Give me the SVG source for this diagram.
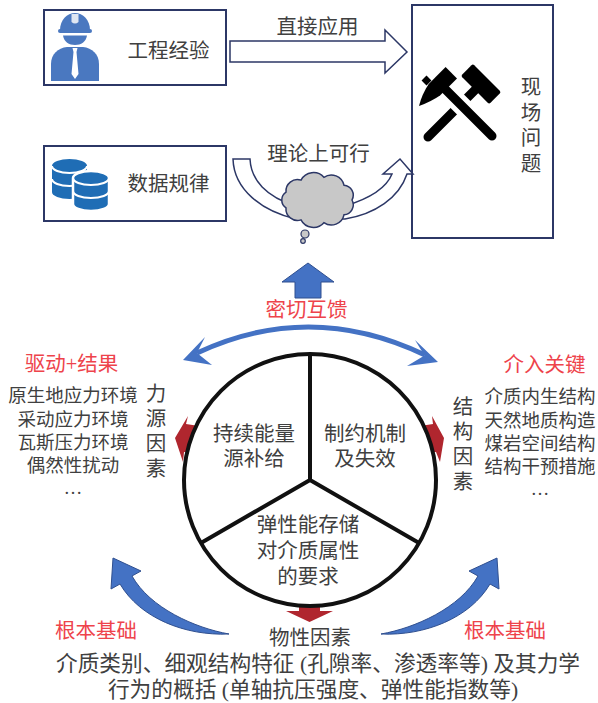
<svg xmlns="http://www.w3.org/2000/svg" xmlns:xlink="http://www.w3.org/1999/xlink" width="598" height="703" viewBox="0 0 598 703">
  <style>
    text { font-family: "Liberation Serif", "Noto Sans CJK SC", sans-serif; fill: #404040; font-size: 20.5px; }
    .mid { text-anchor: middle; }
    .red { fill: #ee434b; }
    .list { font-size: 18.5px; }
    .desc { font-size: 21.7px; }
    .box { fill: #fff; stroke: #2c3766; stroke-width: 2; }
    .outline { fill: #fff; stroke: #2c3766; stroke-width: 1.5; stroke-linejoin: miter; }
    .blue { fill: #4472c4; stroke: #2f4f8f; stroke-width: 1; }
    .dred { fill: #b0262e; }
  </style>
  <defs>
    <path id="baseArrow" d="M229,634 C195,628 150,608 132,576 L141,571 L113,558 L111,589 L120,584 C140,618 185,636 229,634 Z"/>
  </defs>

  <rect width="598" height="703" fill="#fff"/>

  <!-- experience node -->
  <g id="experience">
    <rect class="box" x="44" y="10" width="182" height="75"/>
    <g fill="#4a78c0">
      <path d="M60,30 C60,20 67,13 75,13 C83,13 90,20 90,30 Z"/>
      <path d="M71.5,14 L71.5,22 Q75,25 78.5,22 L78.5,14 Z" fill="#dfe6f2"/>
      <rect x="58" y="29" width="34" height="4" rx="2"/>
      <path d="M63,35.5 L87,35.5 C86,42 81,45 75,45 C69,45 64,42 63,35.5 Z"/>
      <path d="M51,81 L51,64 C51,54 58,48 67,47 L83,47 C92,48 99,54 99,64 L99,81 Z"/>
      <path d="M72.5,48 L77.5,48 L76.5,52 L78.5,74 L75,79 L71.5,74 L73.5,52 Z" fill="#fff"/>
    </g>
    <text class="mid" x="168.5" y="58">工程经验</text>
  </g>

  <!-- data node -->
  <g id="data">
    <rect class="box" x="44" y="146" width="182" height="75"/>
    <g>
      <path d="M52,166 A17.5,7 0 0 1 87,166 L87,192 A17.5,7 0 0 1 52,192 Z" fill="#1f6db5"/>
      <path d="M52,166 A17.5,7 0 0 0 87,166 M52,179 A17.5,7 0 0 0 87,179" fill="none" stroke="#fff" stroke-width="2"/>
      <path d="M73,178 A18,7 0 0 1 109,178 L109,204 A18,7 0 0 1 73,204 Z" fill="#1f6db5" stroke="#fff" stroke-width="2.5"/>
      <path d="M73,178 A18,7 0 0 0 109,178 M73,191 A18,7 0 0 0 109,191" fill="none" stroke="#fff" stroke-width="2"/>
    </g>
    <text class="mid" x="168.5" y="191">数据规律</text>
  </g>

  <!-- field problem node -->
  <g id="field">
    <rect class="box" x="412" y="5" width="141" height="233"/>
    <g id="tools" fill="#000">
      <rect x="461" y="75.5" width="40" height="17" rx="2" transform="rotate(45 481 84)"/>
      <line x1="481" y1="84" x2="428" y2="137" stroke="#000" stroke-width="9" stroke-linecap="round"/>
      <line x1="442" y1="86" x2="492" y2="136" stroke="#fff" stroke-width="19" stroke-linecap="butt"/>
      <line x1="442" y1="86" x2="492" y2="136" stroke="#000" stroke-width="9" stroke-linecap="round"/>
      <path d="M445.6,67 L457,78.4 L440,95.4 Q432,101 419,106 Q422,94 428.7,84 Z"/>
      <rect x="423" y="77" width="7" height="7" transform="rotate(45 426.5 80.5)"/>
    </g>
    <text class="mid" x="531"><tspan x="531" y="94">现</tspan><tspan x="531" y="120">场</tspan><tspan x="531" y="145">问</tspan><tspan x="531" y="171">题</tspan></text>
  </g>

  <!-- connectors -->
  <g id="connectors">
    <path class="outline" d="M230,41 L385,41 L385,30 L407,52 L385,73 L385,62 L230,62 Z"/>
    <text class="mid" x="317.5" y="34">直接应用</text>

    <path class="outline" d="M233,159 L250,159 C251,180 266,197 296,206 L345,206 C368,199 386,189 392,174 L383,174 L400,159 L413,174 L407,174 C399,198 375,214 345,219 L296,219 C262,211 234,190 233,159 Z"/>
    <path d="M352,200 A10,10 0 0 1 344,214.8 A13,13 0 0 1 323.9,222.7 A14,14 0 0 1 301,219.9 A11.5,11.5 0 0 1 286,207.9 A9.5,9.5 0 0 1 286,192.1 A11.5,11.5 0 0 1 301,180.1 A14,14 0 0 1 323.9,177.3 A13,13 0 0 1 344,185.2 A10,10 0 0 1 352,200 Z" fill="#c8c8c8" stroke="#2c3766" stroke-width="1.5"/>
    <circle cx="305" cy="234" r="4" fill="#c8c8c8" stroke="#2c3766" stroke-width="1.2"/>
    <circle cx="303" cy="241" r="2.3" fill="#c8c8c8" stroke="#2c3766" stroke-width="1.2"/>
    <text class="mid" x="318.5" y="161">理论上可行</text>

    <path class="blue" d="M295,298 L295,282 L282,282 L308,263 L334,282 L321,282 L321,298 Z" stroke="#1f2f5f"/>
    <text class="mid red" x="306.5" y="317">密切互馈</text>

    <path d="M197,353 Q310,300 425,355" fill="none" stroke="#4472c4" stroke-width="5"/>
    <path d="M183,360 L205,337 L197,353 L212,365 Z" fill="#4472c4"/>
    <path d="M438,362 L415,340 L424.5,355.5 L407,366 Z" fill="#4472c4"/>

    <use xlink:href="#baseArrow" class="blue"/>
    <use xlink:href="#baseArrow" class="blue" transform="matrix(-1 0 0 1 610 0)"/>

    <path class="dred" d="M420,426 L433,424 L432,416 L444,438 L440,462 L436,452 L420,454 Z"/>
    <path class="dred" d="M199,426 L186,424 L188,416 L175,438 L183,462 L184,452 L199,454 Z"/>
    <path class="dred" d="M299,598 L320,598 L320,611 L333,611 L309.5,622 L286,611 L299,611 Z"/>
  </g>

  <!-- core circle -->
  <g id="core">
    <circle cx="310" cy="480" r="126" fill="#fff" stroke="#111" stroke-width="4"/>
    <path d="M310,480 L310,354 M310,480 L200.9,543 M310,480 L419.1,543" stroke="#111" stroke-width="4" fill="none"/>
    <text class="mid" x="254"><tspan x="254" y="441">持续能量</tspan><tspan x="254" y="466">源补给</tspan></text>
    <text class="mid" x="365"><tspan x="365" y="441">制约机制</tspan><tspan x="365" y="466">及失效</tspan></text>
    <text class="mid" x="308"><tspan x="308" y="532">弹性能存储</tspan><tspan x="308" y="558">对介质属性</tspan><tspan x="308" y="584">的要求</tspan></text>
  </g>

  <!-- stress source factors -->
  <g id="stress">
    <text class="mid red" x="71.5" y="371">驱动+结果</text>
    <text class="mid list" x="73"><tspan x="73" y="402">原生地应力环境</tspan><tspan x="73" y="426">采动应力环境</tspan><tspan x="73" y="449">瓦斯压力环境</tspan><tspan x="73" y="472">偶然性扰动</tspan><tspan x="73" y="494">…</tspan></text>
    <text class="mid" x="156"><tspan x="156" y="401">力</tspan><tspan x="156" y="426">源</tspan><tspan x="156" y="451">因</tspan><tspan x="156" y="476">素</tspan></text>
  </g>

  <!-- structural factors -->
  <g id="structure">
    <text class="mid red" x="544.5" y="372">介入关键</text>
    <text class="mid" x="463"><tspan x="463" y="414">结</tspan><tspan x="463" y="439">构</tspan><tspan x="463" y="464">因</tspan><tspan x="463" y="489">素</tspan></text>
    <text class="mid list" x="540"><tspan x="540" y="403">介质内生结构</tspan><tspan x="540" y="427">天然地质构造</tspan><tspan x="540" y="450">煤岩空间结构</tspan><tspan x="540" y="473">结构干预措施</tspan><tspan x="540" y="495">…</tspan></text>
  </g>

  <!-- physical property factors -->
  <g id="physical">
    <text class="mid red" x="96" y="638">根本基础</text>
    <text class="mid red" x="505" y="638">根本基础</text>
    <text class="mid" x="310" y="645">物性因素</text>
    <text class="mid desc" x="318" y="671">介质类别、细观结构特征 (孔隙率、渗透率等) 及其力学</text>
    <text class="mid desc" x="313" y="697">行为的概括 (单轴抗压强度、弹性能指数等)</text>
  </g>
</svg>
